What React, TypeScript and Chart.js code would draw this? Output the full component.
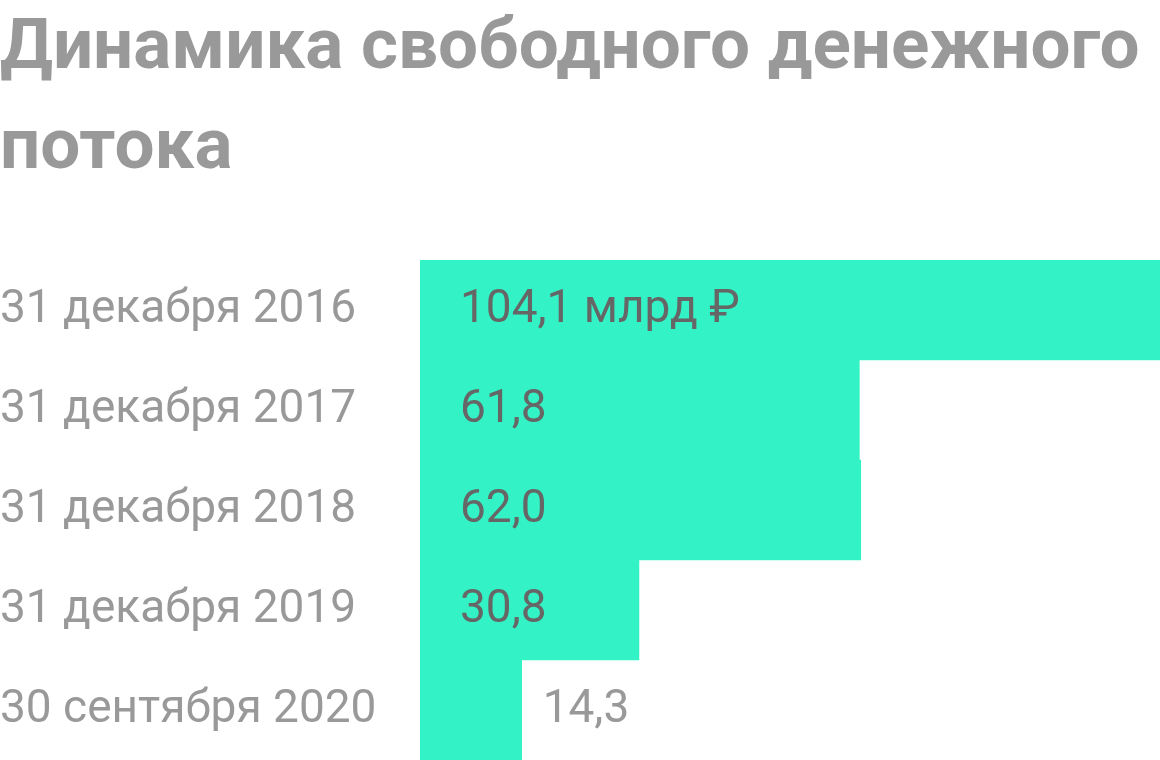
import { useEffect, useRef } from "react"
import { Chart, registerables } from "chart.js"

Chart.register(...registerables)

const titleLines = ["Динамика свободного денежного", "потока"]
const dates = ["31 декабря 2016", "31 декабря 2017", "31 декабря 2018", "31 декабря 2019", "30 сентября 2020"]
const cashFlow = [104.1, 61.8, 62.0, 30.8, 14.3]
const valueLabels = ["104,1 млрд ₽", "61,8", "62,0", "30,8", "14,3"]

const FONT = "Roboto, 'Noto Sans', sans-serif"

// draws the value next to each bar (inside when there is room)
const valueLabelPlugin = {
  id: "valueLabels",
  afterDatasetsDraw(chart: Chart) {
    const ctx = chart.ctx
    const meta = chart.getDatasetMeta(0)
    ctx.save()
    ctx.font = `46px ${FONT}`
    ctx.textBaseline = "middle"
    ctx.textAlign = "left"
    meta.data.forEach((bar: any, i: number) => {
      const inside = cashFlow[i] > 20
      ctx.fillStyle = inside ? "#666666" : "#999999"
      const x = inside ? bar.base + 40 : bar.x + 21
      ctx.fillText(valueLabels[i], x, bar.y)
    })
    ctx.restore()
  },
}

export default function App() {
  const chartRef = useRef<HTMLCanvasElement>(null)
  const chartInstance = useRef<Chart | null>(null)

  useEffect(() => {
    if (!chartRef.current) return
    if (chartInstance.current) chartInstance.current.destroy()
    const ctx = chartRef.current.getContext("2d")
    if (!ctx) return

    chartInstance.current = new Chart(ctx, {
      type: "bar",
      data: {
        labels: dates,
        datasets: [
          {
            data: cashFlow,
            backgroundColor: "#33F2C5",
            borderWidth: 0,
            barPercentage: 1,
            categoryPercentage: 1,
          },
        ],
      },
      options: {
        indexAxis: "y",
        animation: false,
        responsive: true,
        maintainAspectRatio: false,
        layout: { padding: 0 },
        plugins: {
          legend: { display: false },
          tooltip: { enabled: false },
          title: {
            display: true,
            text: titleLines,
            align: "start",
            color: "#999999",
            font: { family: FONT, size: 71, weight: "bold", lineHeight: 100 / 71 },
            padding: { top: 0, bottom: 60 },
          },
        },
        scales: {
          x: {
            display: false,
            min: 0,
            max: 104.1,
          },
          y: {
            grid: { display: false },
            border: { display: false },
            ticks: {
              crossAlign: "far",
              color: "#999999",
              padding: 0,
              font: { family: FONT, size: 46 },
            },
            afterFit(scale: any) {
              scale.width = 420
              scale.paddingTop = 0
              scale.paddingBottom = 0
            },
          },
        },
      },
      plugins: [valueLabelPlugin],
    })

    return () => {
      if (chartInstance.current) {
        chartInstance.current.destroy()
        chartInstance.current = null
      }
    }
  }, [])

  return (
    <div style={{ position: "fixed", left: 0, top: 0, width: 1160, height: 760, background: "#fff" }}>
      <canvas ref={chartRef} />
    </div>
  )
}
